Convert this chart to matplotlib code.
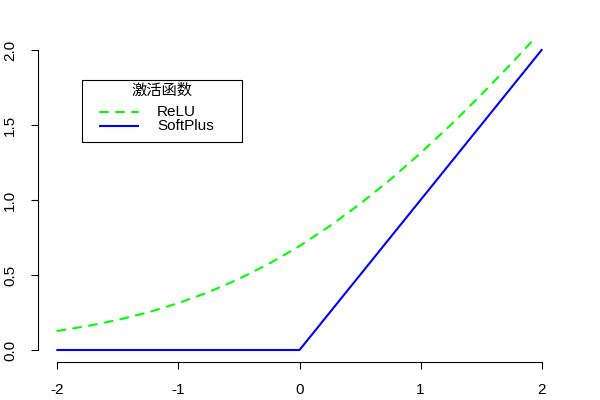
import matplotlib
matplotlib.use("Agg")
import matplotlib.pyplot as plt
from matplotlib.patches import Rectangle
from matplotlib.lines import Line2D

plt.rcParams['font.family'] = ['Liberation Sans', 'Noto Sans CJK SC', 'DejaVu Sans']

x = [-2.0, -1.75, -1.5, -1.25, -1.0, -0.75, -0.5, -0.25, 0.0,
     0.25, 0.5, 0.75, 1.0, 1.25, 1.5, 1.75, 2.0]
green_y = [0.127, 0.160, 0.201, 0.251, 0.313, 0.386, 0.474, 0.576, 0.693,
           0.826, 0.974, 1.136, 1.313, 1.501, 1.701, 1.910, 2.127]
blue_y = [0.0, 0.0, 0.0, 0.0, 0.0, 0.0, 0.0, 0.0, 0.0,
          0.25, 0.5, 0.75, 1.0, 1.25, 1.5, 1.75, 2.0]
x_ticks = [-2, -1, 0, 1, 2]
y_ticks = [0.0, 0.5, 1.0, 1.5, 2.0]
x_tick_labels = ["-2", "-1", "0", "1", "2"]
y_tick_labels = ["0.0", "0.5", "1.0", "1.5", "2.0"]
legend_title = "激活函数"
labels = ["ReLU", "SoftPlus"]

GREEN = '#00FF00'
BLUE = '#0000FF'
DASH = (0, (3.84, 3.84))
FS = 11

W, H = 600, 400
fig = plt.figure(figsize=(6, 4), dpi=100)
ax = fig.add_axes([38/W, 1 - 362/H, (561 - 38)/W, (362 - 38)/H])

ax.plot(x, green_y, color=GREEN, lw=1.5, linestyle=DASH, dash_capstyle='round')
ax.plot(x, blue_y, color=BLUE, lw=1.5)

ax.set_xlim(-2.16, 2.16)
ax.set_ylim(-0.08, 2.08)
for s in ['top', 'right']:
    ax.spines[s].set_visible(False)
ax.spines['left'].set_bounds(0, 2)
ax.spines['bottom'].set_bounds(-2, 2)
for s in ['left', 'bottom']:
    ax.spines[s].set_linewidth(0.8)
ax.set_xticks(x_ticks)
ax.set_xticklabels(x_tick_labels)
ax.set_yticks(y_ticks)
ax.set_yticklabels(y_tick_labels, rotation=90, va='center')
ax.tick_params(axis='both', direction='out', length=5, width=0.8, labelsize=FS)
ax.tick_params(axis='x', pad=10)
ax.tick_params(axis='y', pad=10)

# legend drawn in figure pixel coordinates (top-left origin)
def fx(px):
    return px / W

def fy(py):
    return 1 - py / H

fig.patches.append(Rectangle((fx(82), fy(142)), fx(242) - fx(82), fy(80) - fy(142),
                             transform=fig.transFigure, fill=True, facecolor='white',
                             edgecolor='black', lw=0.8, zorder=5))
fig.text(fx(162), fy(91), legend_title, ha='center', va='center', fontsize=FS, zorder=6)
styles = [dict(color=GREEN, linestyle=DASH, dash_capstyle='round'),
          dict(color=BLUE, linestyle='-')]
rows = [112, 126]
for lab, st, ry in zip(labels, styles, rows):
    fig.lines.append(Line2D([fx(100), fx(138)], [fy(ry), fy(ry)], lw=1.5,
                            transform=fig.transFigure, zorder=6, **st))
    fig.text(fx(157), fy(ry), lab, ha='left', va='center', fontsize=FS, zorder=6)

fig.savefig("out.png", dpi=100)
